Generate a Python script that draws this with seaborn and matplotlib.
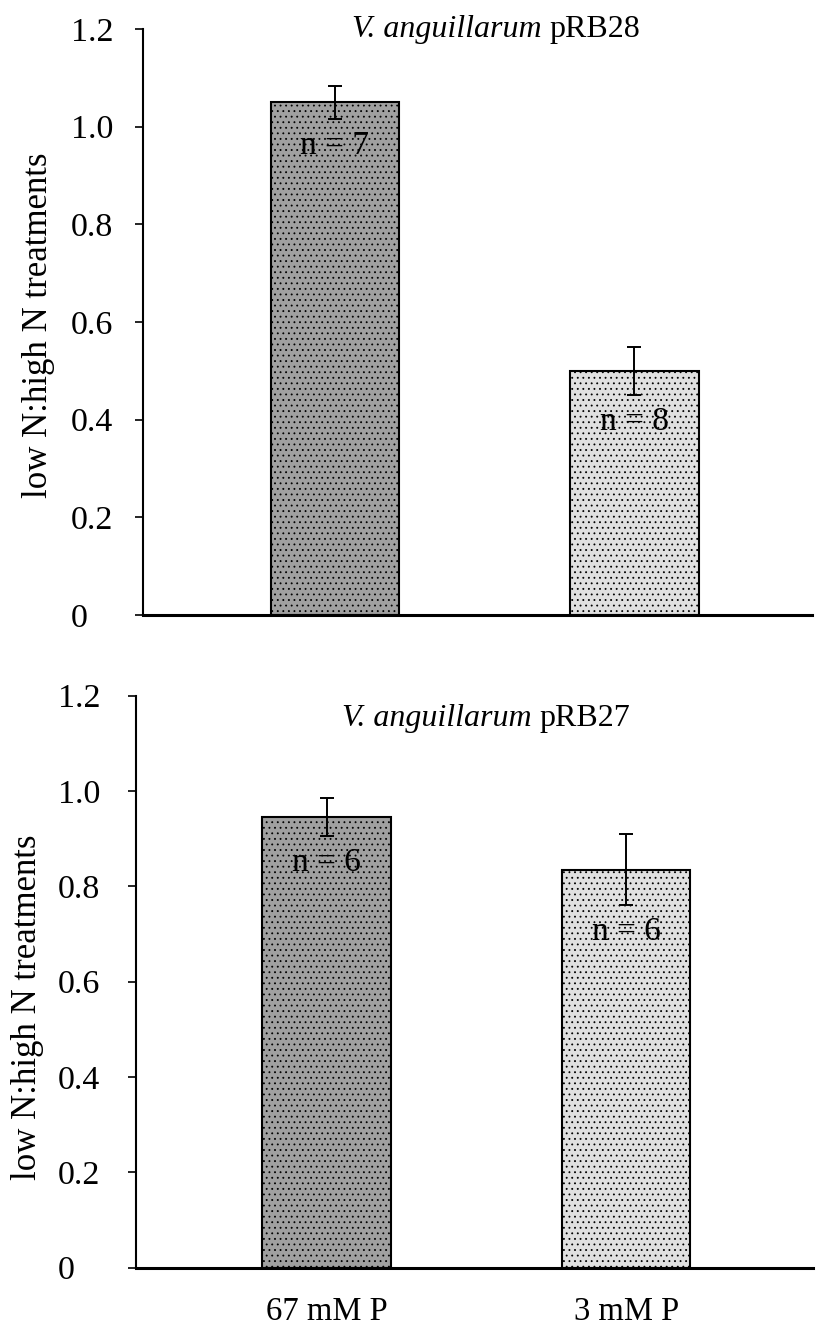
import matplotlib
matplotlib.use('Agg')
import matplotlib.pyplot as plt
import seaborn as sns
import pandas as pd

# ---- data ----
categories = ['67 mM P', '3 mM P']
species = 'V. anguillarum'
strains = ['pRB28', 'pRB27']
ratio_pRB28 = [1.05, 0.50]
sem_pRB28 = [0.034, 0.049]
n_pRB28 = [7, 8]
ratio_pRB27 = [0.945, 0.835]
sem_pRB27 = [0.040, 0.075]
n_pRB27 = [6, 6]
yticks = [0, 0.2, 0.4, 0.6, 0.8, 1.0, 1.2]
ytick_labels = ['0', '0.2', '0.4', '0.6', '0.8', '1.0', '1.2']
ylabel = 'low N:high N treatments'
bar_colors = ['#a0a0a0', '#e0e0e0']

sns.set_style('white')
plt.rcParams['font.family'] = ['Liberation Serif', 'DejaVu Serif']
plt.rcParams['hatch.linewidth'] = 0.6
plt.rcParams['text.color'] = 'black'
plt.rcParams['axes.labelcolor'] = 'black'
plt.rcParams['xtick.color'] = 'black'
plt.rcParams['ytick.color'] = 'black'

W, H = 819, 1333
fig = plt.figure(figsize=(W / 100, H / 100), dpi=100)


def panel(ax, vals, errs, ns, strain, xlim, label_pad, title_xy, ylabel_xy, show_x):
    df = pd.DataFrame({'cond': categories, 'ratio': vals})
    sns.barplot(data=df, x='cond', y='ratio', hue='cond', palette=bar_colors,
                legend=False, width=0.43, edgecolor='black', linewidth=1.5,
                errorbar=None, ax=ax, zorder=2)
    for p in ax.patches:
        p.set_hatch('...')
    xs = [p.get_x() + p.get_width() / 2 for p in ax.patches]
    ax.errorbar(xs, vals, yerr=errs, fmt='none', ecolor='black',
                elinewidth=1.4, capsize=5, capthick=1.4, zorder=3)
    for x, v, e, n in zip(xs, vals, errs, ns):
        ax.text(x, v - e - 0.055, f'n = {n}', ha='center', va='center',
                fontsize=24, color='black', zorder=4)
    ax.set_ylim(0, 1.2)
    ax.set_xlim(*xlim)
    ax.set_yticks(yticks)
    ax.set_yticklabels(ytick_labels)
    for lbl in ax.get_yticklabels():
        lbl.set_horizontalalignment('left')
    ax.tick_params(axis='y', direction='out', length=5.8, width=1.2,
                   pad=label_pad, labelsize=24.5, colors='black', left=True)
    ax.tick_params(axis='x', length=0, pad=21, labelsize=23.5,
                   labelbottom=show_x, colors='black')
    ax.set_xlabel('')
    ax.set_ylabel(ylabel, fontsize=25, color='black')
    ax.yaxis.label.set_verticalalignment('center')
    ax.yaxis.set_label_coords(*ylabel_xy)
    sns.despine(ax=ax)
    ax.spines['left'].set_linewidth(1.5)
    ax.spines['bottom'].set_linewidth(2.2)
    ax.spines['left'].set_color('black')
    ax.spines['bottom'].set_color('black')
    t_sp = ax.text(title_xy[0], title_xy[1], species + ' ', transform=ax.transAxes,
                   ha='left', va='center', fontsize=23, fontstyle='italic',
                   color='black')
    ax.annotate(strain, xy=(1, 0), xycoords=t_sp, ha='left', va='bottom',
                fontsize=23, color='black')


ax1 = fig.add_axes([143 / W, (H - 615) / H, 669 / W, 586 / H])
panel(ax1, ratio_pRB28, sem_pRB28, n_pRB28, strains[0], (-0.641, 1.593), 46,
      (0.312, 1.0), ((38.5 - 143) / 669, 0.495), False)

ax2 = fig.add_axes([136 / W, (H - 1267.7) / H, 677 / W, 572 / H])
panel(ax2, ratio_pRB27, sem_pRB27, n_pRB27, strains[1], (-0.636, 1.624), 50.4,
      (0.304, 0.961), ((27 - 136) / 677, 0.455), True)

fig.savefig('out.png', dpi=100)
